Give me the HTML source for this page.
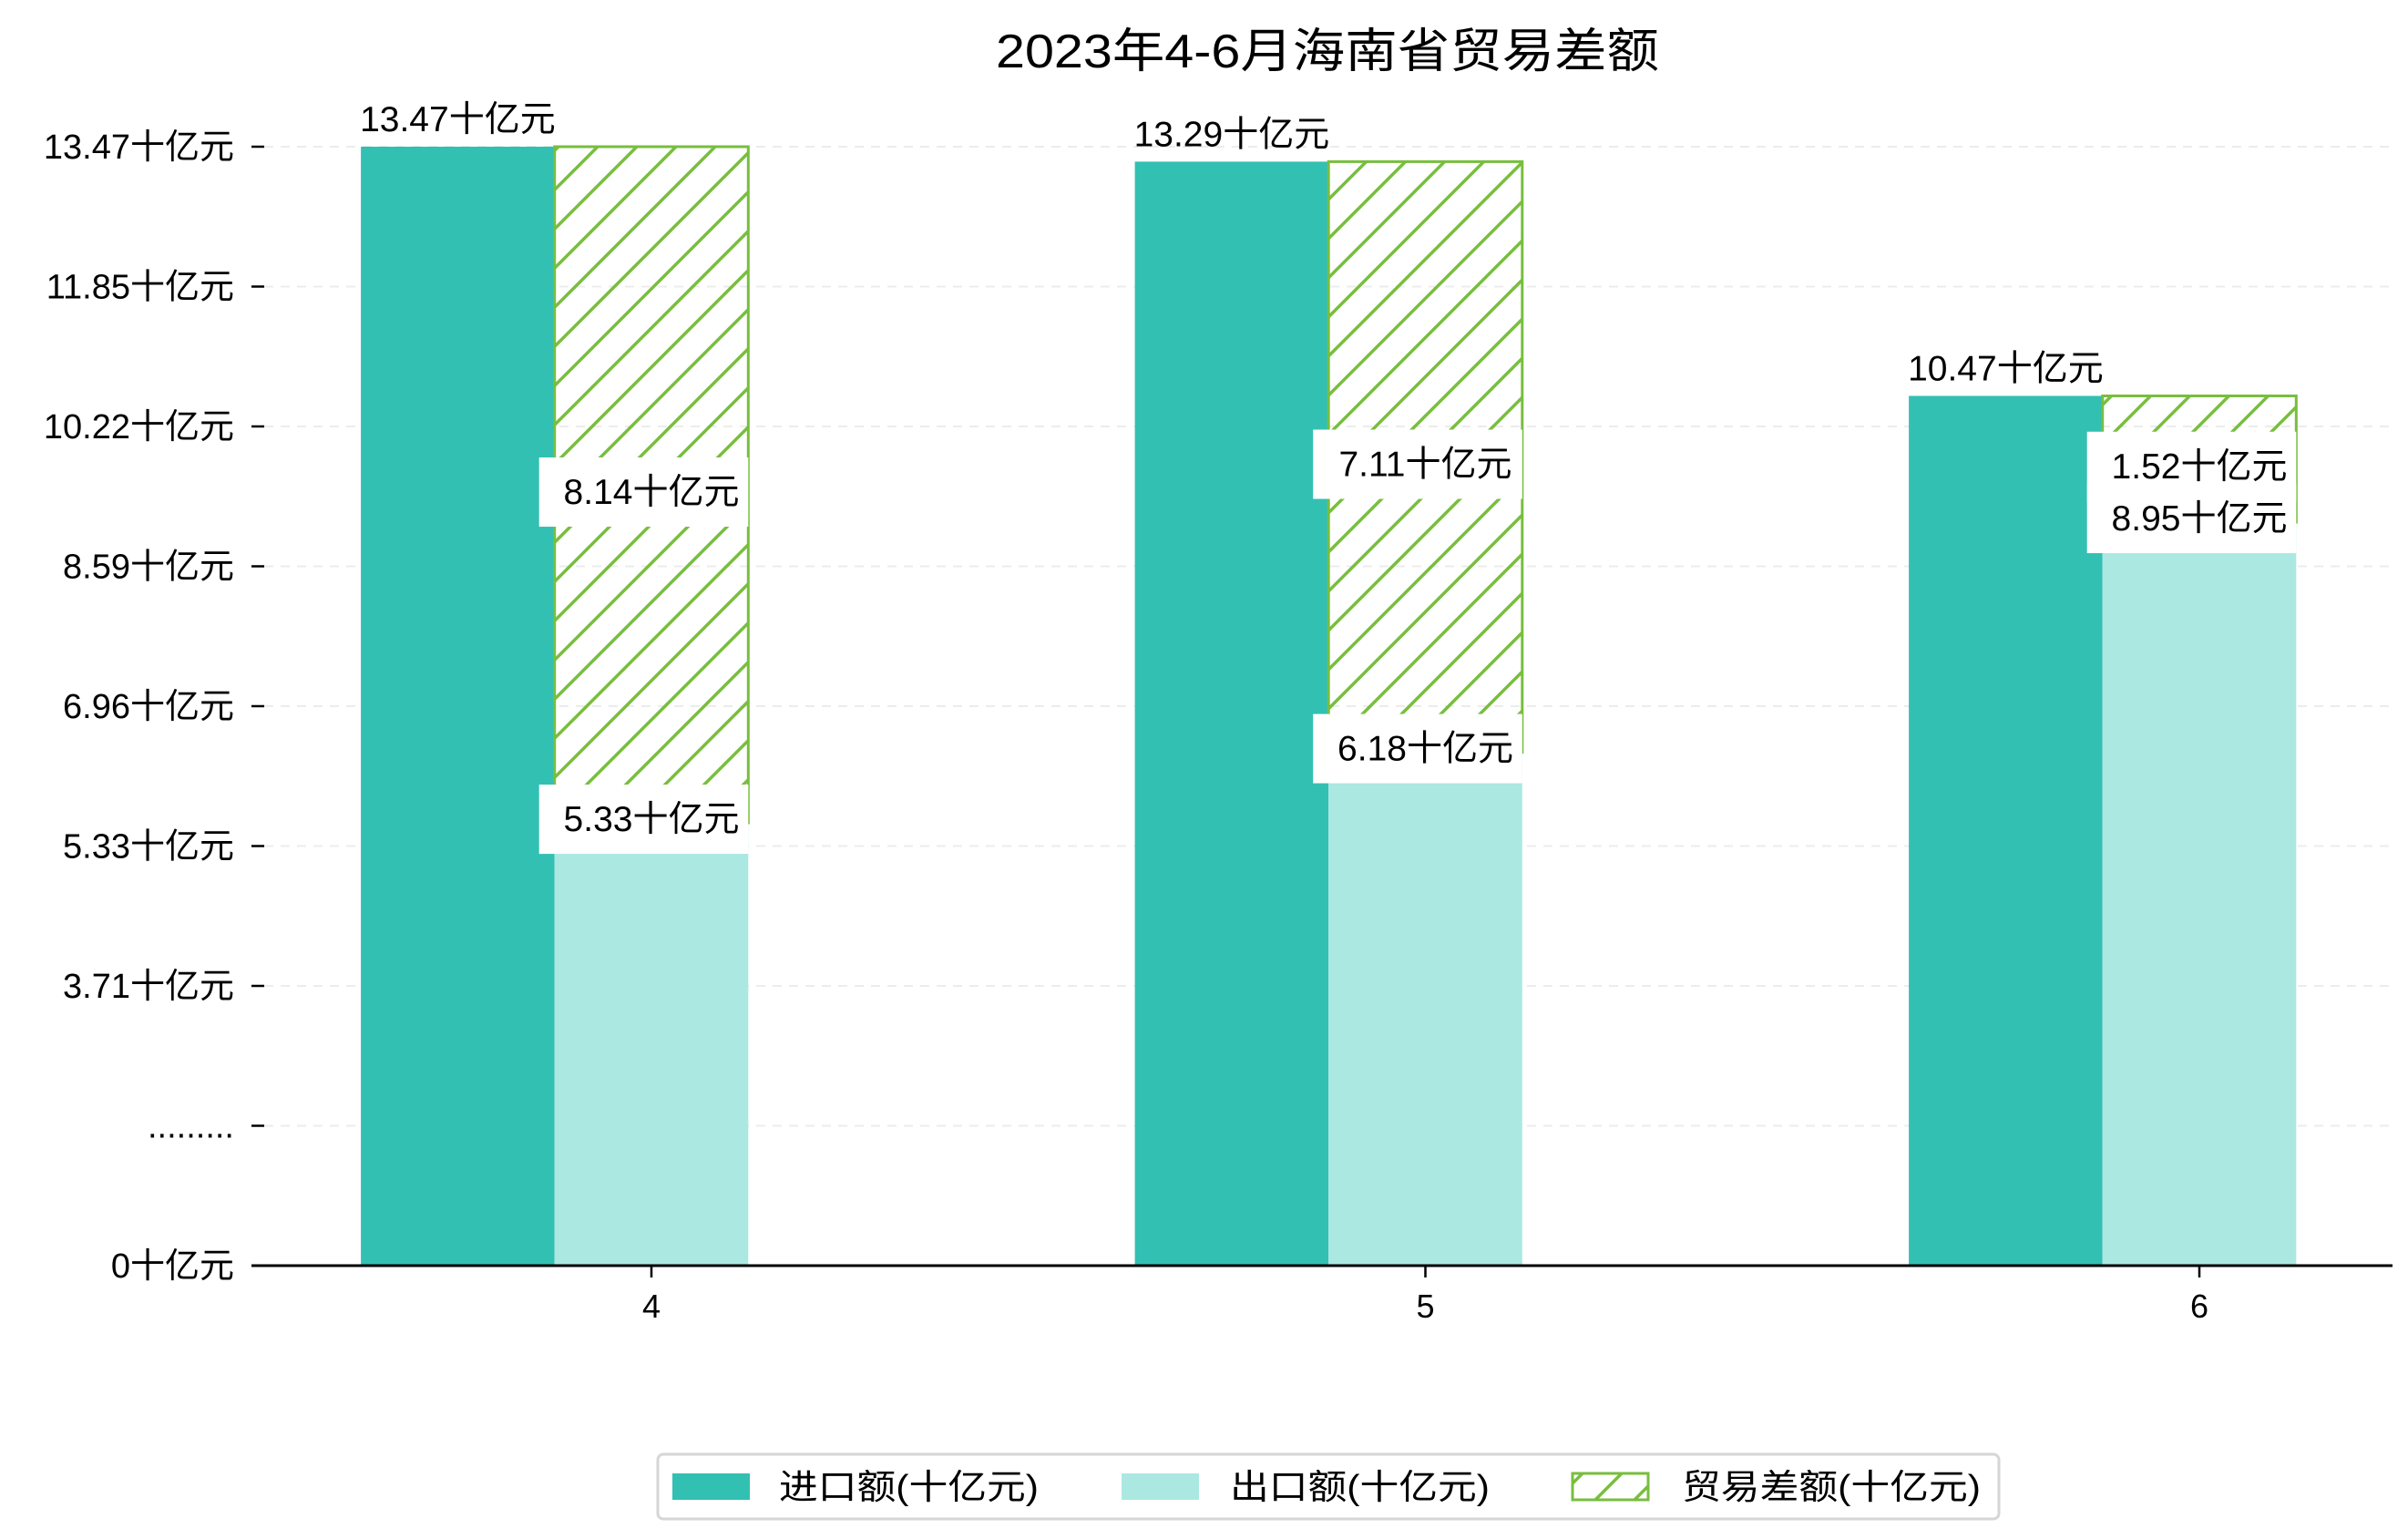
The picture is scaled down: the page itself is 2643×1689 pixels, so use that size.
<!DOCTYPE html>
<html><head><meta charset="utf-8"><style>
html,body{margin:0;padding:0;background:#fff;}
svg{display:block;font-family:"Liberation Sans","Noto Sans CJK SC",sans-serif;}
</style></head><body>
<svg id="chart" width="2643" height="1689" viewBox="0 0 2643 1689" xmlns="http://www.w3.org/2000/svg">
<defs>
<pattern id="hatch" patternUnits="userSpaceOnUse" width="43" height="43">
<path d="M0,43 L43,0 M-6,6 L6,-6 M37,49 L49,37" stroke="#78be3e" stroke-width="3.5"/>
</pattern>
</defs>
<rect width="2643" height="1689" fill="#fff"/>
<text x="1457" y="74" font-size="52" text-anchor="middle" textLength="728" lengthAdjust="spacingAndGlyphs">2023年4-6月海南省贸易差额</text>
<g id="grid"></g><g id="bars"></g><g id="boxes"></g><g id="labels"></g><g id="axes"></g>
<g>
<rect x="722" y="1596" width="1472" height="71" rx="6" fill="#fff" stroke="#d6d6d6" stroke-width="3"/>
<rect x="738" y="1617" width="85" height="29" fill="#32c0b3"/>
<text x="855" y="1645" font-size="38" textLength="285" lengthAdjust="spacingAndGlyphs">进口额(十亿元)</text>
<rect x="1231" y="1617" width="85" height="29" fill="#abe8e2"/>
<text x="1350" y="1645" font-size="38" textLength="285" lengthAdjust="spacingAndGlyphs">出口额(十亿元)</text>
<rect x="1726" y="1617" width="83" height="29" fill="url(#hatch)" stroke="#78be3e" stroke-width="3"/>
<text x="1846" y="1645" font-size="38" textLength="328" lengthAdjust="spacingAndGlyphs">贸易差额(十亿元)</text>
</g>
</svg>
<script>
const months = ['4', '5', '6'];
const importVals = [13.47, 13.29, 10.47];
const exportVals = [5.33, 6.18, 8.95];
const balanceVals = [8.14, 7.11, 1.52];
const yTickLabels = ['0十亿元', '.........', '3.71十亿元', '5.33十亿元', '6.96十亿元', '8.59十亿元', '10.22十亿元', '11.85十亿元', '13.47十亿元'];

const NS = 'http://www.w3.org/2000/svg';
const y0 = 1389, yTop = 161, maxV = 13.47;
const yScale = v => y0 - v * (y0 - yTop) / maxV;
const tickY = i => y0 - i * (y0 - yTop) / (yTickLabels.length - 1);
const xCenter = i => 715 + i * 849.5;
const bw = 212.6;
function mk(tag, attrs, parent) {
  const e = document.createElementNS(NS, tag);
  for (const k in attrs) e.setAttribute(k, attrs[k]);
  parent.appendChild(e);
  return e;
}
const grid = document.getElementById('grid'), bars = document.getElementById('bars'),
      boxes = document.getElementById('boxes'),
      labels = document.getElementById('labels'), axes = document.getElementById('axes');

yTickLabels.forEach((t, i) => {
  const y = tickY(i);
  if (i > 0) {
    const g = mk('line', {x1: 290, x2: 2626, y1: y, y2: y, stroke: '#ececec', 'stroke-width': 2, 'stroke-dasharray': '10,8'}, grid);
    
    
  }
  const tk = mk('line', {x1: 276, x2: 290, y1: y, y2: y, stroke: '#000', 'stroke-width': 2.5}, axes);
  
  
  const tx = mk('text', {x: 257, y: y + 13, 'font-size': 38, 'text-anchor': 'end'}, axes);
  tx.textContent = t;
  
  
});

function labelBox(txt, cx, cy, name, boxed) {
  if (boxed) {
    const r = mk('rect', {x: cx - bw / 2 - 17, y: cy - 38, width: bw + 17, height: 76, fill: '#fff'}, boxes);
    
    
  }
  const t = mk('text', {x: cx, y: cy + 13, 'font-size': 39, 'text-anchor': 'middle'}, labels);
  t.textContent = txt;
  
  
}

months.forEach((m, i) => {
  const c = xCenter(i);
  const ib = mk('rect', {x: c - 1.5 * bw, y: yScale(importVals[i]), width: bw, height: y0 - yScale(importVals[i]), fill: '#32c0b3'}, bars);
  
  
  const eb = mk('rect', {x: c - 0.5 * bw, y: yScale(exportVals[i]), width: bw, height: y0 - yScale(exportVals[i]), fill: '#abe8e2'}, bars);
  
  
  const top = exportVals[i] + balanceVals[i];
  const bb = mk('rect', {x: c - 0.5 * bw, y: yScale(top), width: bw, height: yScale(exportVals[i]) - yScale(top), fill: 'url(#hatch)', stroke: '#78be3e', 'stroke-width': 3}, bars);
  
  

  labelBox(importVals[i].toFixed(2) + '十亿元', c - bw, yScale(importVals[i]) - 30, 'import-value-label', false);
  labelBox(balanceVals[i].toFixed(2) + '十亿元', c, yScale(exportVals[i] + balanceVals[i] / 2) + 8, 'balance-value-label', true);
  labelBox(exportVals[i].toFixed(2) + '十亿元', c, yScale(exportVals[i]) - 4, 'export-value-label', true);

  const xt = mk('line', {x1: c, x2: c, y1: y0, y2: y0 + 13, stroke: '#000', 'stroke-width': 2.5}, axes);
  
  
  const xl = mk('text', {x: c, y: y0 + 57, 'font-size': 36, 'text-anchor': 'middle'}, axes);
  xl.textContent = m;
  
  
});
const ax = mk('line', {x1: 276, x2: 2626, y1: y0, y2: y0, stroke: '#000', 'stroke-width': 3}, axes);


</script>
</body></html>
